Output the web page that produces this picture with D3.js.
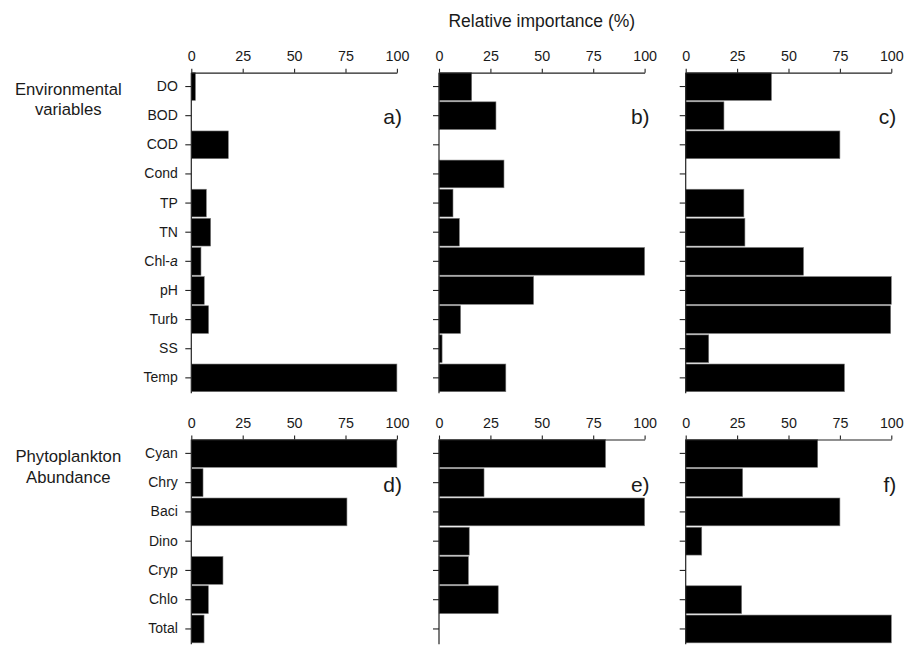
<!DOCTYPE html>
<html>
<head>
<meta charset="utf-8">
<script src="https://cdn.jsdelivr.net/npm/d3@7"></script>
<style>
  html, body { margin: 0; padding: 0; background: #fff; }
  svg { display: block; }
  text { font-family: "Liberation Sans", Arial, sans-serif; fill: #1a1a1a; }
</style>
</head>
<body>
<svg id="chart" width="910" height="646"></svg>
<script>
// Variables on the vertical axes
const envVars = ["DO", "BOD", "COD", "Cond", "TP", "TN", "Chl-a", "pH", "Turb", "SS", "Temp"];
const phytoGroups = ["Cyan", "Chry", "Baci", "Dino", "Cryp", "Chlo", "Total"];

// Relative importance (%) of the environmental variables, panels a–c
const envA = [2, 0, 18, 0, 7.3, 9.4, 4.7, 6.3, 8.4, 0, 100];
const envB = [15.9, 27.7, 0, 31.6, 6.8, 9.9, 100, 46, 10.5, 1.5, 32.5];
const envC = [41.7, 18.6, 75, 0, 28.3, 28.8, 57.3, 100, 99.7, 11.2, 77.2];

// Relative importance (%) of phytoplankton abundance, panels d–f
const phyD = [100, 5.7, 75.7, 0, 15.4, 8.3, 6.2];
const phyE = [81, 21.9, 100, 14.7, 14.3, 28.8, 0];
const phyF = [64.2, 27.7, 75, 7.8, 0, 27.2, 100];

// Axis ticks and panel letters
const xTicks = [0, 25, 50, 75, 100];
const panelLetters = ["a)", "b)", "c)", "d)", "e)", "f)"];

const svg = d3.select("#chart");

// Horizontal placement of the three columns of panels
const colX = [191.3, 439, 685.7];
const panelW = 205.6;

// Vertical placement of the two rows
const rows = [
  { cats: envVars, series: [envA, envB, envC], top: 72.7, step: 29.0, letterY: 123.5 },
  { cats: phytoGroups, series: [phyD, phyE, phyF], top: 439.5, step: 29.05, letterY: 492 }
];

rows.forEach((row, ri) => {
  const y = d3.scaleBand()
    .domain(row.cats)
    .range([row.top, row.top + row.cats.length * row.step])
    .paddingInner(0.05)
    .paddingOuter(0.0);

  row.series.forEach((values, ci) => {
    const x = d3.scaleLinear().domain([0, 100]).range([colX[ci], colX[ci] + panelW]);
    const g = svg.append("g");

    // bars
    g.selectAll("rect")
      .data(row.cats.map((c, i) => ({ c, v: values[i] })).filter(d => d.v > 0))
      .join("rect")
      .attr("x", x(0))
      .attr("y", d => y(d.c))
      .attr("width", d => x(d.v) - x(0))
      .attr("height", y.bandwidth())
      .attr("fill", "#000")
      .attr("stroke", "#777")
      .attr("stroke-width", 0.6);

    // top value axis
    const xa = g.append("g")
      .attr("transform", `translate(0,${row.top})`)
      .call(d3.axisTop(x).tickValues(xTicks).tickSize(4).tickPadding(8).tickSizeOuter(0));
    xa.select(".domain").attr("stroke", "#222").attr("stroke-width", 1.2);
    xa.selectAll(".tick line").attr("stroke", "#222").attr("stroke-width", 1.1);
    xa.selectAll("text")
      .attr("font-size", "14.3px")
      .attr("font-family", "'Liberation Sans', Arial, sans-serif")
      .attr("fill", "#1a1a1a");

    // left category axis
    const ya = g.append("g")
      .attr("transform", `translate(${x(0)},0)`)
      .call(d3.axisLeft(y).tickSize(6).tickPadding(7.5).tickSizeOuter(0));
    ya.select(".domain")
      .attr("d", `M0,${row.top}V${row.top + row.cats.length * row.step + 1.5}`)
      .attr("stroke", "#222").attr("stroke-width", 1.2);
    ya.selectAll(".tick line").attr("stroke", "#222").attr("stroke-width", 1.1);
    ya.selectAll("text")
      .attr("font-size", "14px")
      .attr("font-family", "'Liberation Sans', Arial, sans-serif")
      .attr("fill", "#1a1a1a")
      .style("display", ci === 0 ? null : "none");

    // italic "a" in Chl-a
    ya.selectAll("text").filter(d => d === "Chl-a").each(function () {
      const t = d3.select(this);
      t.text(null);
      t.append("tspan").text("Chl-");
      t.append("tspan").attr("font-style", "italic").text("a");
    });

    // panel letter
    g.append("text")
      .attr("x", x(100) + 5)
      .attr("y", row.letterY)
      .attr("text-anchor", "end")
      .attr("font-size", "21px")
      .text(panelLetters[ri * 3 + ci]);
  });
});

// shared title over the middle column
svg.append("text")
  .attr("x", colX[1] + panelW / 2)
  .attr("y", 26.5)
  .attr("text-anchor", "middle")
  .attr("font-size", "17.5px")
  .text("Relative importance (%)");

// row titles
const rowTitles = [
  { lines: ["Environmental", "variables"], y: 95 },
  { lines: ["Phytoplankton", "Abundance"], y: 462.3 }
];
rowTitles.forEach(rt => {
  const t = svg.append("text")
    .attr("x", 68.3)
    .attr("y", rt.y)
    .attr("text-anchor", "middle")
    .attr("font-size", "16.7px");
  rt.lines.forEach((ln, i) => {
    t.append("tspan").attr("x", 68.3).attr("dy", i === 0 ? 0 : 20.3).text(ln);
  });
});
</script>
</body>
</html>
